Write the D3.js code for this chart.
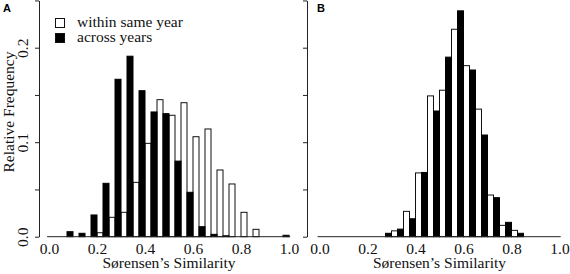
<!DOCTYPE html>
<html>
<head>
<meta charset="utf-8">
<script src="https://cdn.jsdelivr.net/npm/d3@7"></script>
<style>
  body { margin: 0; background: #fff; }
  svg { display: block; font-family: "Liberation Serif", "Times New Roman", serif; }
</style>
</head>
<body>
<div id="chart"></div>
<script>
// bin starts (bin width 0.05), Sørensen's similarity
const binStarts = [0, 0.05, 0.1, 0.15, 0.2, 0.25, 0.3, 0.35, 0.4, 0.45,
                   0.5, 0.55, 0.6, 0.65, 0.7, 0.75, 0.8, 0.85, 0.9, 0.95];

// panel A
const withinA = [0, 0, 0, 0, 0.0042, 0.0205, 0.0258, 0.0575, 0.0988, 0.1450,
                 0.1285, 0.1418, 0.1058, 0.1140, 0.0706, 0.0558, 0.0258, 0.0078, 0, 0];
const acrossA = [0, 0.0053, 0.0036, 0.0230, 0.0565, 0.1666, 0.1910, 0.1545, 0.1320, 0.1302,
                 0.0800, 0.0470, 0.0106, 0.0025, 0.0010, 0, 0, 0, 0, 0.0015];

// panel B
const withinB = [0, 0, 0, 0, 0, 0, 0.0062, 0.0268, 0.0675, 0.1490,
                 0.1550, 0.2195, 0.1810, 0.1350, 0.0441, 0.0120, 0.0067, 0, 0, 0];
const acrossB = [0, 0, 0, 0, 0, 0.0036, 0.0080, 0.0190, 0.0680, 0.1330,
                 0.1900, 0.2390, 0.1764, 0.1076, 0.0413, 0.0152, 0.0036, 0, 0, 0];

const yTicks = [0, 0.05, 0.1, 0.15, 0.2, 0.25];
const yLabels = [0, 0.1, 0.2];
const xTicks = [0, 0.2, 0.4, 0.6, 0.8, 1.0];
const legendLabels = ["within same year", "across years"];

const W = 570, H = 274;
const binW = 0.05;
const fontSize = "15.5px";

const svg = d3.select("#chart")
              .append("svg")
              .attr("width", W)
              .attr("height", H);

const y = d3.scaleLinear().domain([0, 0.25]).range([236.7, 0.45]);

function drawPanel(x0, axisX, within, across, letter, showYLabels) {
  const x = d3.scaleLinear().domain([0, 1]).range([x0, x0 + 240]);
  const g = svg.append("g");

  const rows = binStarts.map((b, i) => ({b: b, w: within[i], a: across[i]}));

  // white bars: first half of each bin
  g.selectAll(".w")
   .data(rows.filter(d => d.w > 0))
   .enter()
   .append("rect")
   .attr("x", d => x(d.b))
   .attr("width", d => x(d.b + binW / 2) - x(d.b))
   .attr("y", d => y(d.w))
   .attr("height", d => y(0) - y(d.w))
   .attr("fill", "#fff")
   .attr("stroke", "#111")
   .attr("stroke-width", 1);

  // black bars: second half
  g.selectAll(".a")
   .data(rows.filter(d => d.a > 0))
   .enter()
   .append("rect")
   .attr("x", d => x(d.b + binW / 2))
   .attr("width", d => x(d.b + binW) - x(d.b + binW / 2))
   .attr("y", d => y(d.a))
   .attr("height", d => y(0) - y(d.a))
   .attr("fill", "#000")
   .attr("stroke", "#000")
   .attr("stroke-width", 1);

  // baseline
  g.append("line")
   .attr("x1", x(-0.008))
   .attr("x2", x(1.005))
   .attr("y1", y(0))
   .attr("y2", y(0))
   .attr("stroke", "#222")
   .attr("stroke-width", 1);

  // y axis
  const ya = g.append("g")
              .attr("transform", "translate(" + axisX + ",0)")
              .call(d3.axisLeft(y)
                      .tickValues(yTicks)
                      .tickSize(4)
                      .tickSizeOuter(0)
                      .tickFormat(d => showYLabels && yLabels.some(v => Math.abs(v - d) < 1e-9) ? d3.format(".1f")(d) : ""));
  ya.select(".domain").attr("stroke", "#222");
  ya.selectAll(".tick line").attr("stroke", "#222");
  ya.selectAll(".tick text")
    .attr("transform", "rotate(-90)")
    .attr("x", 0)
    .attr("y", -11)
    .attr("dy", 0)
    .attr("text-anchor", "middle")
    .style("font-size", fontSize)
    .style("font-family", "Liberation Serif")
    .attr("fill", "#111");

  // x tick labels, no tick marks
  const xa = g.append("g")
              .attr("transform", "translate(0," + y(0) + ")")
              .call(d3.axisBottom(x)
                      .tickValues(xTicks)
                      .tickSize(0)
                      .tickPadding(6)
                      .tickFormat(d3.format(".1f")));
  xa.select(".domain").remove();
  xa.selectAll(".tick text")
    .style("font-size", fontSize)
    .style("font-family", "Liberation Serif")
    .attr("fill", "#111");

  g.append("text")
   .attr("x", x(0.5))
   .attr("y", 268)
   .attr("text-anchor", "middle")
   .style("font-size", fontSize)
   .attr("fill", "#111")
   .text("Sørensen’s Similarity");

  g.append("text")
   .attr("x", axisX - 36 + (letter === "B" ? 46 : 0) + (letter === "A" ? 0 : 0))
   .attr("y", 12)
   .style("font-family", "Liberation Sans, Arial, sans-serif")
   .style("font-weight", "bold")
   .style("font-size", "11px")
   .text(letter);
}

drawPanel(49, 39, withinA, acrossA, "A", true);
drawPanel(319.5, 307, withinB, acrossB, "B", false);

// y axis title
svg.append("text")
   .attr("transform", "translate(13.5,112) rotate(-90)")
   .attr("text-anchor", "middle")
   .style("font-size", fontSize)
   .attr("fill", "#111")
   .text("Relative Frequency");

// legend
const legend = svg.append("g");
legendLabels.forEach((lab, i) => {
  legend.append("rect")
        .attr("x", 55.5)
        .attr("y", 18.5 + i * 15)
        .attr("width", 9)
        .attr("height", 9)
        .attr("fill", i === 0 ? "#fff" : "#000")
        .attr("stroke", "#111");
  legend.append("text")
        .attr("x", 77)
        .attr("y", 26.5 + i * 15)
        .style("font-size", fontSize)
        .attr("fill", "#111")
        .text(lab);
});
</script>
</body>
</html>
